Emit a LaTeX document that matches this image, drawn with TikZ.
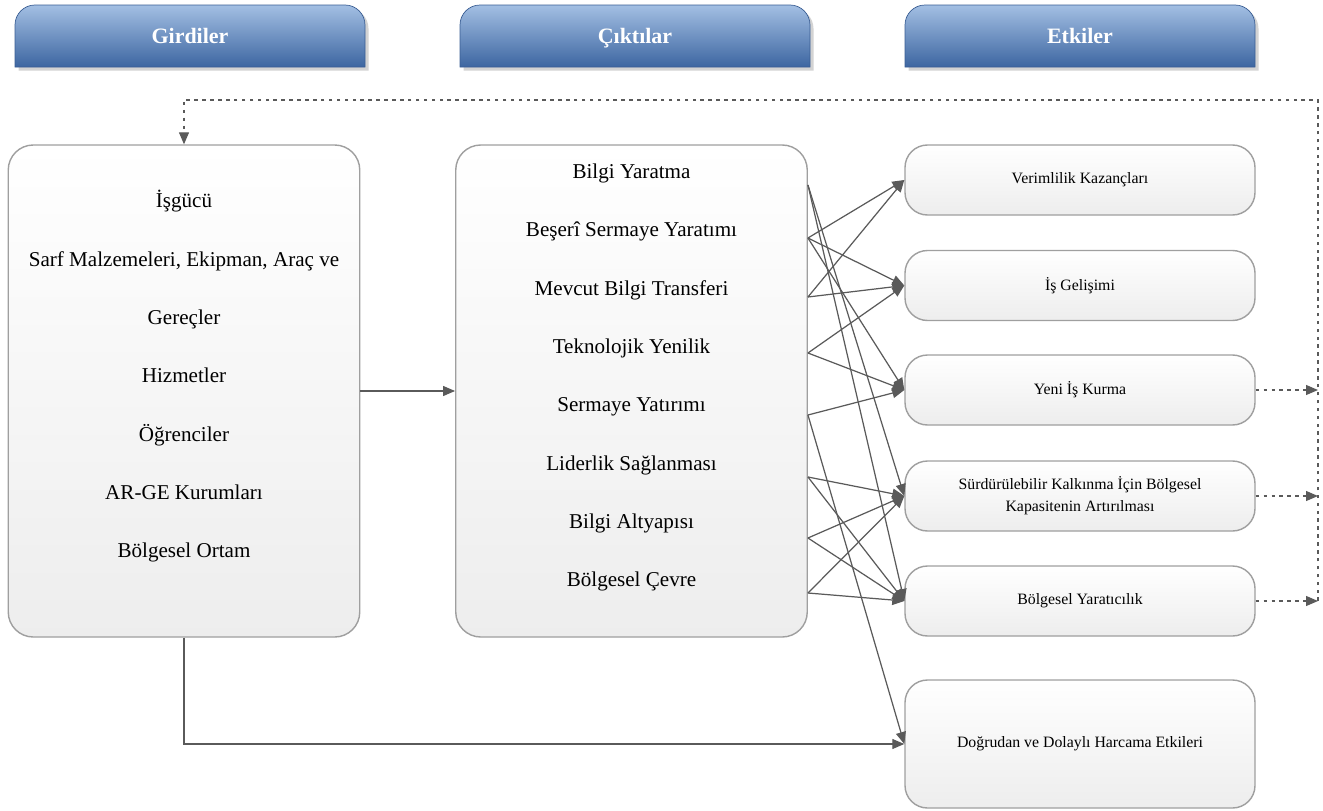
\documentclass[tikz,border=0pt]{standalone}
\usepackage{fontspec}
\setmainfont{Liberation Serif}
\usetikzlibrary{arrows.meta,shadows}
\definecolor{hdtop}{HTML}{A3BFE3}
\definecolor{hdbot}{HTML}{3D66A1}
\definecolor{hdline}{HTML}{3A5E94}
\definecolor{lnk}{HTML}{5A5A5A}
\begin{document}
\begin{tikzpicture}[%
      hdtext/.style={text=white,font=\bfseries\fontsize{12.5}{15}\selectfont,text height=0.7em,text depth=0.2em},
      pics/header/.style={code={\shadedraw[top color=hdtop,bottom color=hdbot,draw=hdline,drop shadow={shadow xshift=2pt,shadow yshift=-2pt,opacity=0.35}] (-3.5,-0.62) -- (-3.5,0.22) arc(180:90:0.4) -- (3.1,0.62) arc(90:0:0.4) -- (3.5,-0.62) -- cycle; \node[hdtext] (-t) at (0,-0.06) {#1};}},
      bigbox/.style={rectangle,draw=gray!75,thick,top color=white,bottom color=black!7,rounded corners=0.5cm,minimum width=7.03cm,minimum height=9.84cm},
      effbox/.style={rectangle,draw=gray!75,thick,top color=white,bottom color=black!7,rounded corners=0.45cm,minimum width=7cm,minimum height=1.4cm,align=center,font=\fontsize{9}{12.5}\selectfont},
      items/.style={align=center,font=\fontsize{12}{33.2}\selectfont},
      conn/.style={draw=lnk,line width=0.7pt,-{Triangle[length=0.24cm,width=0.2cm]}},
      dots/.style={conn,dash pattern=on 2pt off 2.5pt}
      ]
      \useasboundingbox (0,0) rectangle (26.46,-16.22);
      \draw (3.8,-0.72) pic (GH) {header=Girdiler};
      \draw (12.7,-0.72) pic (CH) {header=Çıktılar};
      \draw (21.6,-0.72) pic (EH) {header=Etkiler};
      \draw (3.68,-7.82) node[bigbox] (G) {};
      \draw (3.68,-7.53) node[items] (Gt) {İşgücü\\Sarf Malzemeleri, Ekipman, Araç ve\\Gereçler\\Hizmetler\\Öğrenciler\\AR-GE Kurumları\\Bölgesel Ortam};
      \draw (12.63,-7.82) node[bigbox] (C) {};
      \draw (12.63,-7.55) node[items] (Ct) {Bilgi Yaratma\\Beşerî Sermaye Yaratımı\\Mevcut Bilgi Transferi\\Teknolojik Yenilik\\Sermaye Yatırımı\\Liderlik Sağlanması\\Bilgi Altyapısı\\Bölgesel Çevre};
      \draw (21.6,-3.6) node[effbox] (V) {Verimlilik Kazançları};
      \draw (21.6,-5.71) node[effbox] (I) {İş Gelişimi};
      \draw (21.6,-7.8) node[effbox] (Y) {Yeni İş Kurma};
      \draw (21.6,-9.92) node[effbox] (S) {Sürdürülebilir Kalkınma İçin Bölgesel\\Kapasitenin Artırılması};
      \draw (21.6,-12.02) node[effbox] (B) {Bölgesel Yaratıcılık};
      \draw (21.6,-14.88) node[effbox,minimum height=2.56cm] (D) {Doğrudan ve Dolaylı Harcama Etkileri};
      % connectors
      \coordinate (R) at (26.36,-2.0);
      \foreach \i/\y in {1/3.70,2/4.76,3/5.94,4/7.06,5/8.30,6/9.54,7/10.76,8/11.86}
        \coordinate (s\i) at (C.east |- 0,-\y);
      \draw[conn] (G) -- (C);
      \draw[conn] (G.south) |- (D.west);
      \foreach \a/\b in {1/S,1/B,2/V,2/I,2/Y,3/V,3/I,4/I,4/Y,5/Y,5/D,6/S,6/B,7/S,7/B,8/S,8/B}
        \draw[conn] (s\a) -- (\b.west);
      \foreach \b in {Y,S,B}
        \draw[dots] (\b.east) -- (\b.east -| R);
      \draw[dots] (B.east -| R) -- (R) -| (G.north);
\end{tikzpicture}
\end{document}
